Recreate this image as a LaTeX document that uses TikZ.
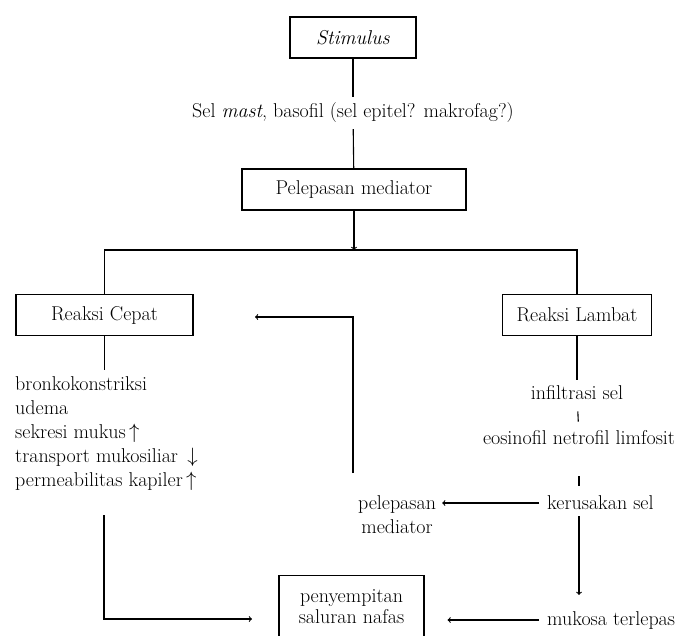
\documentclass[tikz,border=0pt]{standalone}
\usepackage{amsmath}
\usepackage{tikz}

\tikzset{
  kotak/.style={draw, line width=1.1pt, inner sep=0pt, minimum height=41pt, font=\fontsize{20}{24}\selectfont},
  teks/.style={inner sep=6pt, font=\fontsize{20}{24}\selectfont},
  garis/.style={line width=1.1pt},
  panah/.style={line width=1.1pt, ->}
}

\begin{document}
\begin{tikzpicture}[x=1pt,y=-1pt]
  % Frame
  \clip (0,0) rectangle (692,635);

  % Top
  \node[kotak, minimum width=126pt] (stim) at (353,37.5) {\textit{Stimulus}};
  \node[teks] (sel) at (353,113) {Sel \textit{mast}, basofil (sel epitel? makrofag?)};
  \node[kotak, minimum width=224pt] (pel) at (354,189.5) {Pelepasan mediator};
  \coordinate (cabang) at (354,250);

  % Reactions
  \node[kotak, minimum width=177pt] (cepat) at (104.5,315) {Reaksi Cepat};
  \node[kotak, minimum width=149pt] (lambat) at (577,315) {Reaksi Lambat};

  % Left column
  \node[teks, align=left, anchor=north west] (gejala) at (9,370)
    {bronkokonstriksi\\udema\\sekresi mukus\,$\uparrow$\\transport mukosiliar\ \,$\downarrow$\\permeabilitas kapiler\,$\uparrow$};

  % Right column
  \node[teks] (infil) at (577,393) {infiltrasi sel};
  \node[teks] (eos) at (579,438) {eosinofil netrofil limfosit};
  \node[teks, anchor=west] (rusak) at (541,503) {kerusakan sel};
  \node[teks, anchor=west] (mukosa) at (541,620) {mukosa terlepas};

  % Middle
  \node[teks, align=center] (pmed) at (397,515) {pelepasan\\mediator};
  \node[kotak, anchor=north, align=center, minimum width=145pt, inner ysep=14pt] (sempit) at (351.5,575)
    {penyempitan\\[-3pt]saluran nafas\\[10pt]\mbox{}};

  % Free ends
  \coordinate (balik) at (255,317);
  \coordinate (pangkal) at (353,473);
  \coordinate (kiri) at (104,515);
  \coordinate (masuk) at (252,619);

  % Connectors
  \draw[garis] (stim) -- (sel);
  \draw[garis] (sel) -- (pel);
  \draw[panah] (pel) -- (cabang);
  \draw[garis] (cepat) |- (cabang) -| (lambat);
  \draw[panah] (pangkal) |- (balik);
  \draw[garis] (cepat) -- (cepat |- gejala.north);
  \draw[panah] (kiri) |- (masuk);
  \draw[garis] (lambat) -- (infil);
  \draw[garis, shorten <=5pt, shorten >=3pt] (infil) -- (eos);
  \draw[garis, shorten <=25pt, shorten >=4pt] (eos.south) -- (eos |- rusak.north);
  \draw[panah, shorten >=10pt] (eos |- rusak.south) -- (eos |- mukosa.north);
  \draw[panah, shorten <=2pt] (rusak) -- (pmed.east |- rusak);
  \draw[panah, shorten <=2pt, shorten >=23pt] (mukosa) -- (sempit.east |- mukosa);
\end{tikzpicture}
\end{document}
